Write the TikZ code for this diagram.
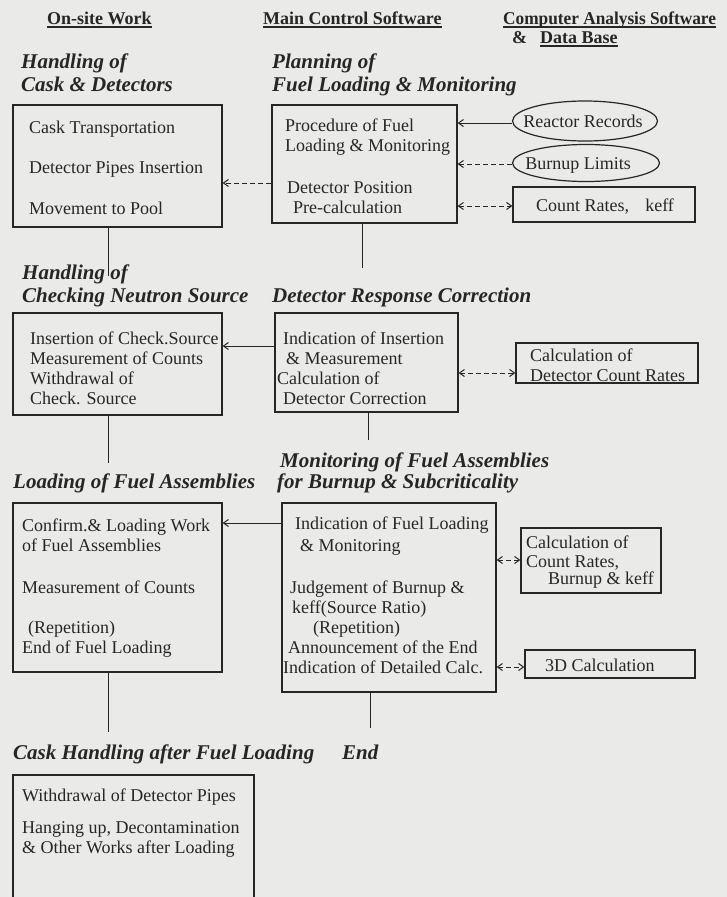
\documentclass[tikz,border=0pt]{standalone}
\usepackage{fontspec}
\setmainfont{Liberation Serif}
\usepackage{graphicx}
\usetikzlibrary{shapes.geometric,arrows.meta,calc}
\definecolor{bgc}{RGB}{234,234,232}
\definecolor{ink}{RGB}{38,38,38}
\begin{document}
\begin{tikzpicture}[x=1pt,y=-1pt,
  box/.style={draw=ink,line width=1.2pt,inner sep=0pt},
  oval/.style={ellipse,draw=ink,line width=1.2pt,inner sep=0pt},
  txt/.style={anchor=base west,inner sep=0pt,text=ink,font=\fontsize{18}{20}\selectfont},
  hd/.style={anchor=base west,inner sep=0pt,text=ink,font=\fontsize{21}{23}\selectfont\bfseries\itshape},
  tophd/.style={anchor=base west,inner sep=0pt,text=ink,font=\fontsize{18}{20}\selectfont\bfseries},
  ul/.style={draw=ink,line width=1.4pt},
  conn/.style={draw=ink,line width=1pt},
  arr/.style={conn,-{Straight Barb[length=5pt,width=7pt]}},
  arrd/.style={arr,dash pattern=on 5pt off 3pt},
  biarrd/.style={conn,dash pattern=on 5pt off 3pt,{Straight Barb[length=5pt,width=7pt]}-{Straight Barb[length=5pt,width=7pt]}}
]
\useasboundingbox (0,0) rectangle (727,897);
\fill[bgc] (0,0) rectangle (727,897);

% column headers
\node[tophd] (h1) at (47,24) {On-site Work};
\node[tophd] (h2) at (263,24) {Main Control Software};
\node[tophd] (h3) at (503,24) {\scalebox{0.96}[1]{Computer Analysis Software}};
\node[tophd] (h3b) at (512,43) {\&};
\node[tophd] (h3c) at (540,43) {Data Base};
\foreach \n in {h1,h2,h3,h3c}{
  \draw[ul] ([yshift=-3pt]\n.base west) -- ([yshift=-3pt]\n.base east);
}

% section headings
\node[hd] (s1a) at (21,68) {Handling of};
\node[hd] (s1b) at (21,91) {Cask \& Detectors};
\node[hd] (s2a) at (272,68) {Planning of};
\node[hd] (s2b) at (272,91) {Fuel Loading \& Monitoring};
\node[hd] (s3a) at (22,279) {Handling of};
\node[hd] (s3b) at (22,302) {Checking Neutron Source};
\node[hd] (s4) at (272,302) {Detector Response Correction};
\node[hd] (s5) at (13,488) {Loading of Fuel Assemblies};
\node[hd] (s6a) at (280,467) {Monitoring of Fuel Assemblies};
\node[hd] (s6b) at (277,488) {for Burnup \& Subcriticality};
\node[hd] (s7) at (13,759) {Cask Handling after Fuel Loading};
\node[hd] (s8) at (342,759) {End};

% boxes
\node[box,minimum width=209pt,minimum height=122pt] (b1) at (117.5,166) {};
\node[box,minimum width=185pt,minimum height=118pt] (b2) at (364.5,164) {};
\node[oval,minimum width=145pt,minimum height=40pt] (e1) at (585,121) {};
\node[oval,minimum width=147pt,minimum height=37pt] (e2) at (586,163) {};
\node[box,minimum width=182pt,minimum height=35pt] (cr) at (604,204.5) {};
\node[box,minimum width=209pt,minimum height=102pt] (b3) at (117.5,364) {};
\node[box,minimum width=183pt,minimum height=99pt] (b4) at (366.5,362.5) {};
\node[box,minimum width=182pt,minimum height=40pt] (b7) at (607,363) {};
\node[box,minimum width=209pt,minimum height=169pt] (b5) at (117.5,587.5) {};
\node[box,minimum width=214pt,minimum height=189pt] (b6) at (389,597.5) {};
\node[box,minimum width=140pt,minimum height=65pt] (b8) at (591,560.5) {};
\node[box,minimum width=170pt,minimum height=28pt] (b10) at (610,664) {};
\draw[draw=ink,line width=1.2pt] (13,905) -- (13,775) -- (254,775) -- (254,905);

% box texts
\node[txt] (t1a) at (29,133) {Cask Transportation};
\node[txt] (t1b) at (29,173) {Detector Pipes Insertion};
\node[txt] (t1c) at (29,214) {Movement to Pool};

\node[txt] (t2a) at (285,131) {Procedure of Fuel};
\node[txt] (t2b) at (285,151) {Loading \& Monitoring};
\node[txt] (t2c) at (287,193) {Detector Position};
\node[txt] (t2d) at (293,213) {Pre-calculation};

\node[txt,anchor=base] (te1) at (583,127) {Reactor Records};
\node[txt,anchor=base] (te2) at (578,169) {Burnup Limits};
\node[txt,anchor=base] (tcr) at (605,211) {Count Rates,\hspace{0.9em}keff};

\node[txt] (t3a) at (30,344) {Insertion of Check.Source};
\node[txt] (t3b) at (30,364) {Measurement of Counts};
\node[txt] (t3c) at (30,384) {Withdrawal of};
\node[txt] (t3d) at (30,404) {Check. Source};

\node[txt] (t4a) at (283,344) {Indication of Insertion};
\node[txt] (t4b) at (286,364) {\& Measurement};
\node[txt] (t4c) at (277,384) {Calculation of};
\node[txt] (t4d) at (283,404) {Detector Correction};

\node[txt] (t7a) at (530,361) {Calculation of};
\node[txt] (t7b) at (530,381) {Detector Count Rates};

\node[txt] (t5a) at (22,531) {Confirm.\& Loading Work};
\node[txt] (t5b) at (22,551) {of Fuel Assemblies};
\node[txt] (t5c) at (22,593) {Measurement of Counts};
\node[txt] (t5d) at (28,633) {(Repetition)};
\node[txt] (t5e) at (22,653) {End of Fuel Loading};

\node[txt] (t6a) at (295,529) {Indication of Fuel Loading};
\node[txt] (t6b) at (300,551) {\& Monitoring};
\node[txt] (t6c) at (290,593) {Judgement of Burnup \&};
\node[txt] (t6d) at (292,613) {keff(Source Ratio)};
\node[txt] (t6e) at (313,633) {(Repetition)};
\node[txt] (t6f) at (288,653) {Announcement of the End};
\node[txt] (t6g) at (283,673) {Indication of Detailed Calc.};

\node[txt] (t8a) at (526,548) {Calculation of};
\node[txt] (t8b) at (526,567) {Count Rates,};
\node[txt] (t8c) at (548,584) {Burnup \& keff};

\node[txt] (t10) at (545,671) {3D Calculation};

\node[txt] (t9a) at (22,801) {Withdrawal of Detector Pipes};
\node[txt] (t9b) at (22,833) {Hanging up, Decontamination};
\node[txt] (t9c) at (22,853) {\& Other Works after Loading};

% connectors
\draw[arr] (e1.west |- 0,123) -- (b2.east |- 0,123);
\draw[arrd] (e2.west |- 0,164) -- (b2.east |- 0,164);
\draw[biarrd] (b2.east |- 0,206) -- (cr.west |- 0,206);
\draw[arrd] (b2.west |- 0,183) -- (b1.east |- 0,183);
\draw[arr] (b4.west |- 0,346) -- (b3.east |- 0,346);
\draw[biarrd] (b4.east |- 0,373) -- (b7.west |- 0,373);
\draw[arr] (b6.west |- 0,523) -- (b5.east |- 0,523);
\draw[biarrd] (b6.east |- 0,560) -- (b8.west |- 0,560);
\draw[biarrd] (b6.east |- 0,667) -- (b10.west |- 0,667);

\coordinate (v1) at (108,276);
\coordinate (v2) at (362,268);
\coordinate (v3) at (108,463);
\coordinate (v4) at (368,440);
\coordinate (v5) at (108,732);
\coordinate (v6) at (370,728);
\draw[conn] (b1.south -| v1) -- (v1);
\draw[conn] (b2.south -| v2) -- (v2);
\draw[conn] (b3.south -| v3) -- (v3);
\draw[conn] (b4.south -| v4) -- (v4);
\draw[conn] (b5.south -| v5) -- (v5);
\draw[conn] (b6.south -| v6) -- (v6);
\end{tikzpicture}
\end{document}
